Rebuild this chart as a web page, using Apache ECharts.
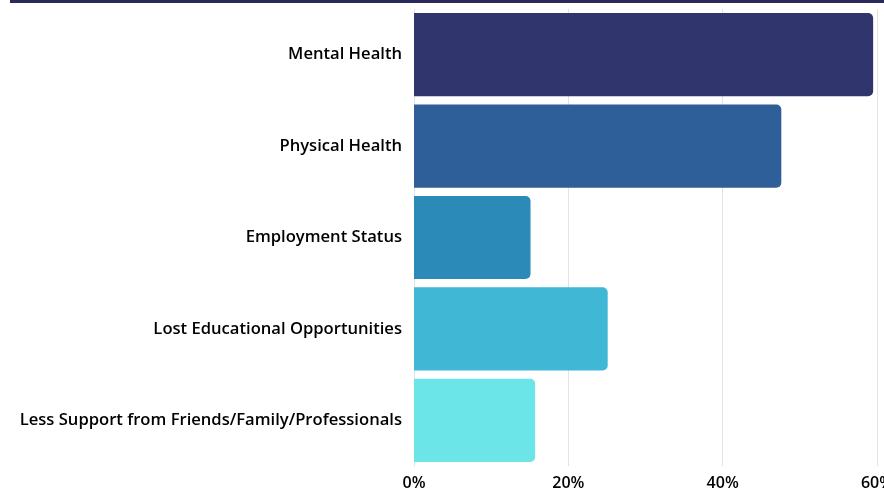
<!DOCTYPE html>
<html>
<head>
<meta charset="utf-8">
<script src="https://cdn.jsdelivr.net/npm/echarts@6/dist/echarts.min.js"></script>
<style>
html,body{margin:0;padding:0;background:#fff;}
#topline{position:absolute;left:10px;top:0;width:874px;height:3px;background:#2b2a5c;}
#chart{position:absolute;left:0;top:0;width:884px;height:489px;}
</style>
</head>
<body>
<div id="chart"></div>
<div id="topline"></div>
<script>
const categories = [
  "Mental Health",
  "Physical Health",
  "Employment Status",
  "Lost Educational Opportunities",
  "Less Support from Friends/Family/Professionals"
];
const values = [59.5, 47.6, 15.1, 25.1, 15.7];
const barColors = ["#31356e", "#2e5f98", "#2b8ab7", "#41b7d6", "#6ce5e8"];
const tickLabels = ["0%", "20%", "40%", "60%"];

const font = 'Open Sans';
const chart = echarts.init(document.getElementById('chart'));
chart.setOption({
  animation: false,
  grid: {left: 414, right: 7, top: 9, bottom: 23, containLabel: false, outerBoundsMode: 'none'},
  xAxis: {
    type: 'value', min: 0, max: 60, interval: 20,
    axisLine: {show: false}, axisTick: {show: false},
    splitLine: {lineStyle: {color: '#e3e3e3', width: 1}},
    axisLabel: {
      color: '#000', fontSize: 16, fontFamily: font, fontWeight: 600, margin: 9,
      hideOverlap: false, showMaxLabel: true,
      formatter: function (v) { return tickLabels[Math.round(v / 20)]; }
    }
  },
  yAxis: {
    type: 'category', data: categories, inverse: true,
    axisLine: {show: false}, axisTick: {show: false},
    axisLabel: {color: '#000', fontSize: 16.6, fontFamily: font, fontWeight: 600, margin: 12}
  },
  series: [{
    type: 'bar',
    barCategoryGap: '9%',
    data: values.map((v, i) => ({value: v, itemStyle: {color: barColors[i]}})),
    itemStyle: {borderRadius: [0, 5, 5, 0]}
  }]
});
</script>
</body>
</html>
